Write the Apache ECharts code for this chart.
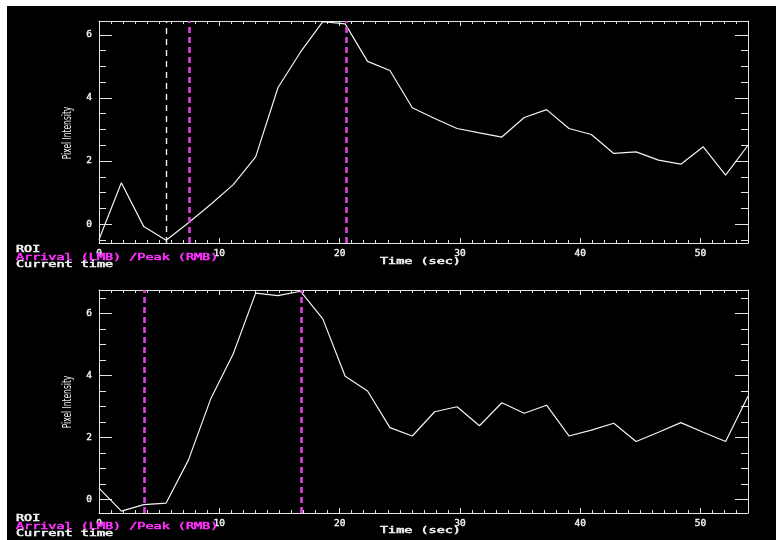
<!DOCTYPE html>
<html><head><meta charset="utf-8">
<script src="https://cdn.jsdelivr.net/npm/echarts@6/dist/echarts.min.js"></script>
<style>
html,body{margin:0;padding:0;background:#fff;}
#bg{position:absolute;left:7px;top:6px;width:769px;height:534px;background:#000;}
#chart{position:absolute;left:0;top:0;width:779px;height:540px;}
</style></head><body>
<div id="bg"></div><div id="chart"></div>
<script>
// ---- data ----
const times = [0, 1.86, 3.72, 5.58, 7.44, 9.3, 11.16, 13.02, 14.88, 16.74, 18.6, 20.46, 22.32, 24.18, 26.04,
  27.9, 29.76, 31.62, 33.48, 35.34, 37.2, 39.06, 40.92, 42.78, 44.64, 46.5, 48.36, 50.22, 52.08, 53.94];
const roiTop = [-0.49, 1.31, -0.08, -0.51, 0.04, 0.63, 1.25, 2.13, 4.33, 5.45, 6.42, 6.35, 5.16, 4.87, 3.69,
  3.35, 3.03, 2.89, 2.76, 3.38, 3.63, 3.03, 2.84, 2.24, 2.29, 2.03, 1.90, 2.45, 1.55, 2.50];
const roiBottom = [0.37, -0.37, -0.16, -0.11, 1.28, 3.26, 4.70, 6.65, 6.57, 6.71, 5.82, 3.97, 3.50, 2.32, 2.05,
  2.83, 2.99, 2.38, 3.12, 2.78, 3.04, 2.05, 2.24, 2.46, 1.87, 2.17, 2.48, 2.17, 1.87, 3.33];
const currentTop = [5.58];
const arrivalPeakTop = [7.5, 20.55];
const currentBottom = [];
const arrivalPeakBottom = [3.75, 16.8];
const xMajorTicks = [0, 10, 20, 30, 40, 50];
const xMinorTicks = [0,1,2,3,4,5,6,7,8,9,10,11,12,13,14,15,16,17,18,19,20,21,22,23,24,25,26,27,28,29,30,
  31,32,33,34,35,36,37,38,39,40,41,42,43,44,45,46,47,48,49,50,51,52,53];
const yMajorTicks = [0, 2, 4, 6];
const yMinorTicks = [-0.5, 0, 0.5, 1, 1.5, 2, 2.5, 3, 3.5, 4, 4.5, 5, 5.5, 6, 6.5];
const yRangeTop = [-0.6, 6.44];
const yRangeBottom = [-0.43, 6.75];
const xRange = [0, 53.94];
const legendLines = ['ROI', 'Arrival (LMB) /Peak (RMB)', 'Current time'];
const xTitle = 'Time (sec)';
const yTitle = 'Pixel Intensity';

// ---- styles ----
const AX = '#e4e4e4';
const WHITE = '#f2f2f2';
const MAG = '#e040e0';
const MAGTXT = '#ff30ff';
const labelStyle = {color: WHITE, fontFamily: 'DejaVu Sans Mono', fontSize: 9.5,
  textBorderColor: WHITE, textBorderWidth: 0.4};

function xAx(grid, pos, major, labels) {
  return {type: 'value', gridIndex: grid, position: pos, min: xRange[0], max: xRange[1],
    axisLine: {show: major, onZero: false, lineStyle: {color: AX, width: 1}},
    axisTick: {show: true, inside: true, length: major ? 5 : 3, customValues: major ? xMajorTicks : xMinorTicks,
      lineStyle: {color: AX, width: 1}},
    axisLabel: Object.assign({show: labels, customValues: xMajorTicks, margin: 6}, labelStyle),
    splitLine: {show: false}, minorTick: {show: false}};
}
function yAx(grid, pos, major, labels, range) {
  return {type: 'value', gridIndex: grid, position: pos, min: range[0], max: range[1],
    axisLine: {show: major, onZero: false, lineStyle: {color: AX, width: 1}},
    axisTick: {show: true, inside: true, length: major ? 13 : 7, customValues: major ? yMajorTicks : yMinorTicks,
      lineStyle: {color: AX, width: 1}},
    axisLabel: Object.assign({show: labels, customValues: yMajorTicks, margin: 7}, labelStyle),
    splitLine: {show: false}, minorTick: {show: false}};
}

const xAxes = [], yAxes = [];
[yRangeTop, yRangeBottom].forEach((r, g) => {
  xAxes.push(xAx(g, 'bottom', true, true), xAx(g, 'bottom', false, false),
             xAx(g, 'top', true, false), xAx(g, 'top', false, false));
  yAxes.push(yAx(g, 'left', true, true, r), yAx(g, 'left', false, false, r),
             yAx(g, 'right', true, false, r), yAx(g, 'right', false, false, r));
});

function markers(cur, ap) {
  const d = [];
  cur.forEach(v => d.push({xAxis: v, lineStyle: {color: WHITE, type: [6, 5], width: 1.4}}));
  ap.forEach(v => d.push({xAxis: v, lineStyle: {color: MAG, type: [6, 4], width: 2.6}}));
  return {silent: true, symbol: ['none', 'none'], label: {show: false}, animation: false, data: d};
}
function lineSeries(g, vals, cur, ap) {
  return {type: 'line', xAxisIndex: g * 4, yAxisIndex: g * 4, data: times.map((t, i) => [t, vals[i]]),
    symbol: 'none', showSymbol: false, lineStyle: {color: WHITE, width: 1.2}, animation: false,
    markLine: markers(cur, ap)};
}

function txt(x, y, text, color, opts) {
  return Object.assign({type: 'text', x: x, y: y, silent: true, z: 100,
    style: {text: text, fill: color, stroke: color, lineWidth: 0.5, font: '8px "DejaVu Sans Mono"',
      textAlign: 'left', align: 'left', textVerticalAlign: 'middle', verticalAlign: 'middle'}}, opts || {});
}
const graphics = [];
[0, 269].forEach((dy, g) => {
  graphics.push(txt(16, 250.3 + dy, legendLines[0], WHITE, {scaleX: 1.68}));
  graphics.push(txt(16, 257.7 + dy, legendLines[1], MAGTXT, {scaleX: 1.68}));
  graphics.push(txt(16, 265.2 + dy, legendLines[2], WHITE, {scaleX: 1.68}));
  graphics.push(txt(380, 262.2 + dy, xTitle, WHITE, {scaleX: 1.68}));
  graphics.push({type: 'text', x: 67.5, y: g === 0 ? 133 : 402, rotation: Math.PI / 2, scaleX: 0.58, silent: true, z: 100,
    style: {text: yTitle, fill: WHITE, font: '13px "DejaVu Sans"', textAlign: 'center', align: 'center',
      textVerticalAlign: 'middle', verticalAlign: 'middle'}});
});

const chart = echarts.init(document.getElementById('chart'), null, {renderer: 'canvas'});
chart.setOption({
  backgroundColor: 'transparent',
  animation: false,
  grid: [
    {left: 99, top: 21, width: 649, height: 222, containLabel: false, outerBoundsMode: 'none'},
    {left: 99, top: 290, width: 649, height: 223, containLabel: false, outerBoundsMode: 'none'}
  ],
  xAxis: xAxes,
  yAxis: yAxes,
  series: [lineSeries(0, roiTop, currentTop, arrivalPeakTop), lineSeries(1, roiBottom, currentBottom, arrivalPeakBottom)],
  graphic: graphics
});
</script>
</body></html>
